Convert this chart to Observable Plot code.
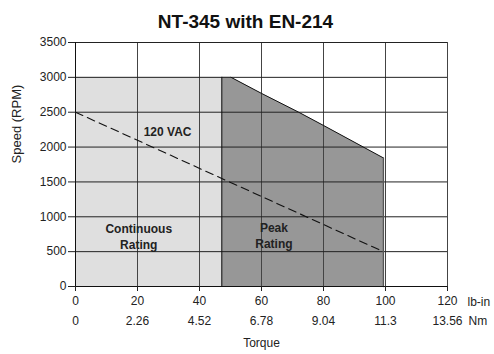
<!DOCTYPE html>
<html>
<head>
<meta charset="utf-8">
<script src="https://cdn.jsdelivr.net/npm/d3@7"></script>
<script src="https://cdn.jsdelivr.net/npm/@observablehq/plot@0.6"></script>
<style>
  html, body { margin: 0; padding: 0; background: white; }
</style>
</head>
<body>
<div id="chart"></div>
<script>
// ---- data ----
const title = "NT-345 with EN-214";
const torqueTicks = [0, 20, 40, 60, 80, 100, 120];           // lb-in
const nmLabels = ["0", "2.26", "4.52", "6.78", "9.04", "11.3", "13.56"];
const speedTicks = [0, 500, 1000, 1500, 2000, 2500, 3000, 3500];

// continuous rating region
const contTorque = [0, 47.2];
const contSpeed = [3000, 3000];

// peak rating region (upper boundary)
const peakTorque = [47.2, 50.2, 60, 72, 80, 99.3];
const peakSpeed  = [3000, 3000, 2770, 2500, 2310, 1845];

// 120 VAC line
const vacTorque = [0, 99.3];
const vacSpeed  = [2500, 500];

// annotations
const labelText = ["120 VAC", "Continuous\nRating", "Peak\nRating"];
const labelTorque = [29.7, 20.4, 64];
const labelSpeed = [2238, 728, 737];

// y-axis title anchor (speed value at its centre)
const yTitle = "Speed (RPM)";
const yTitleSpeed = 2330;

// ---- build tables ----
const cont = contTorque.map((x, i) => ({x, y: contSpeed[i]}));
const peak = peakTorque.map((x, i) => ({x, y: peakSpeed[i]}));
const peakTop = peak.slice(1);
const last = peakTorque.length - 1;
const peakRight = [{x: peakTorque[last], y: peakSpeed[last]}, {x: peakTorque[last], y: 0}];
const vac = vacTorque.map((x, i) => ({x, y: vacSpeed[i]}));
const labels = labelText.map((t, i) => ({t, x: labelTorque[i], y: labelSpeed[i]}));

const chart = Plot.plot({
  width: 494,
  height: 354,
  marginLeft: 75,
  marginRight: 47,
  marginTop: 42,
  marginBottom: 68,
  style: {fontFamily: "'Liberation Sans', Arial, sans-serif", fontSize: "12px", color: "#222", background: "white"},
  x: {domain: [0, 120]},
  y: {domain: [0, 3500]},
  marks: [
    Plot.areaY(cont, {x: "x", y: "y", fill: "#dfdfdf"}),
    Plot.areaY(peak, {x: "x", y: "y", fill: "#979797"}),
    Plot.gridX(torqueTicks, {stroke: "#444", strokeOpacity: 1}),
    Plot.gridY(speedTicks, {stroke: "#222", strokeOpacity: 1}),
    Plot.ruleX([contTorque[1]], {y1: 0, y2: contSpeed[1], stroke: "#111"}),
    Plot.line(peakTop, {x: "x", y: "y", stroke: "#111", strokeWidth: 1}),
    Plot.line(peakRight, {x: "x", y: "y", stroke: "#555", strokeWidth: 1.5}),
    Plot.line(vac, {x: "x", y: "y", stroke: "#111", strokeWidth: 1.1, strokeDasharray: "8,5"}),
    Plot.ruleX([0], {stroke: "#111"}),
    Plot.ruleY([0], {stroke: "#111"}),
    Plot.axisY({ticks: speedTicks, tickSize: 7, tickPadding: 2, label: null, tickFormat: d => String(d), fontSize: 12}),
    Plot.axisX({ticks: torqueTicks, tickSize: 5, tickPadding: 5, label: null, tickFormat: d => String(d), fontSize: 12}),
    Plot.text(torqueTicks, {x: d => d, text: (d, i) => nmLabels[i], frameAnchor: "bottom", dy: 35, fontSize: 12, lineAnchor: "middle"}),
    Plot.text(["lb-in"], {frameAnchor: "bottom-right", textAnchor: "start", dx: 20, dy: 16, fontSize: 12, lineAnchor: "middle"}),
    Plot.text(["Nm"], {frameAnchor: "bottom-right", textAnchor: "start", dx: 21, dy: 35, fontSize: 12, lineAnchor: "middle"}),
    Plot.text(["Torque"], {frameAnchor: "bottom", dy: 57, fontSize: 12, lineAnchor: "middle"}),
    Plot.text([yTitle], {x: 0, y: yTitleSpeed, dx: -59, rotate: -90, fontSize: 13, letterSpacing: 0.5, lineAnchor: "middle"}),
    Plot.text([title], {frameAnchor: "top", dx: -16, dy: -21, fontSize: 19, fontWeight: "bold", lineAnchor: "middle", fill: "#111"}),
    Plot.text(labels, {x: "x", y: "y", text: "t", fontSize: 12, fontWeight: "bold", lineHeight: 1.35, fill: "#222", lineAnchor: "middle"})
  ]
});
document.getElementById("chart").appendChild(chart);
</script>
</body>
</html>
